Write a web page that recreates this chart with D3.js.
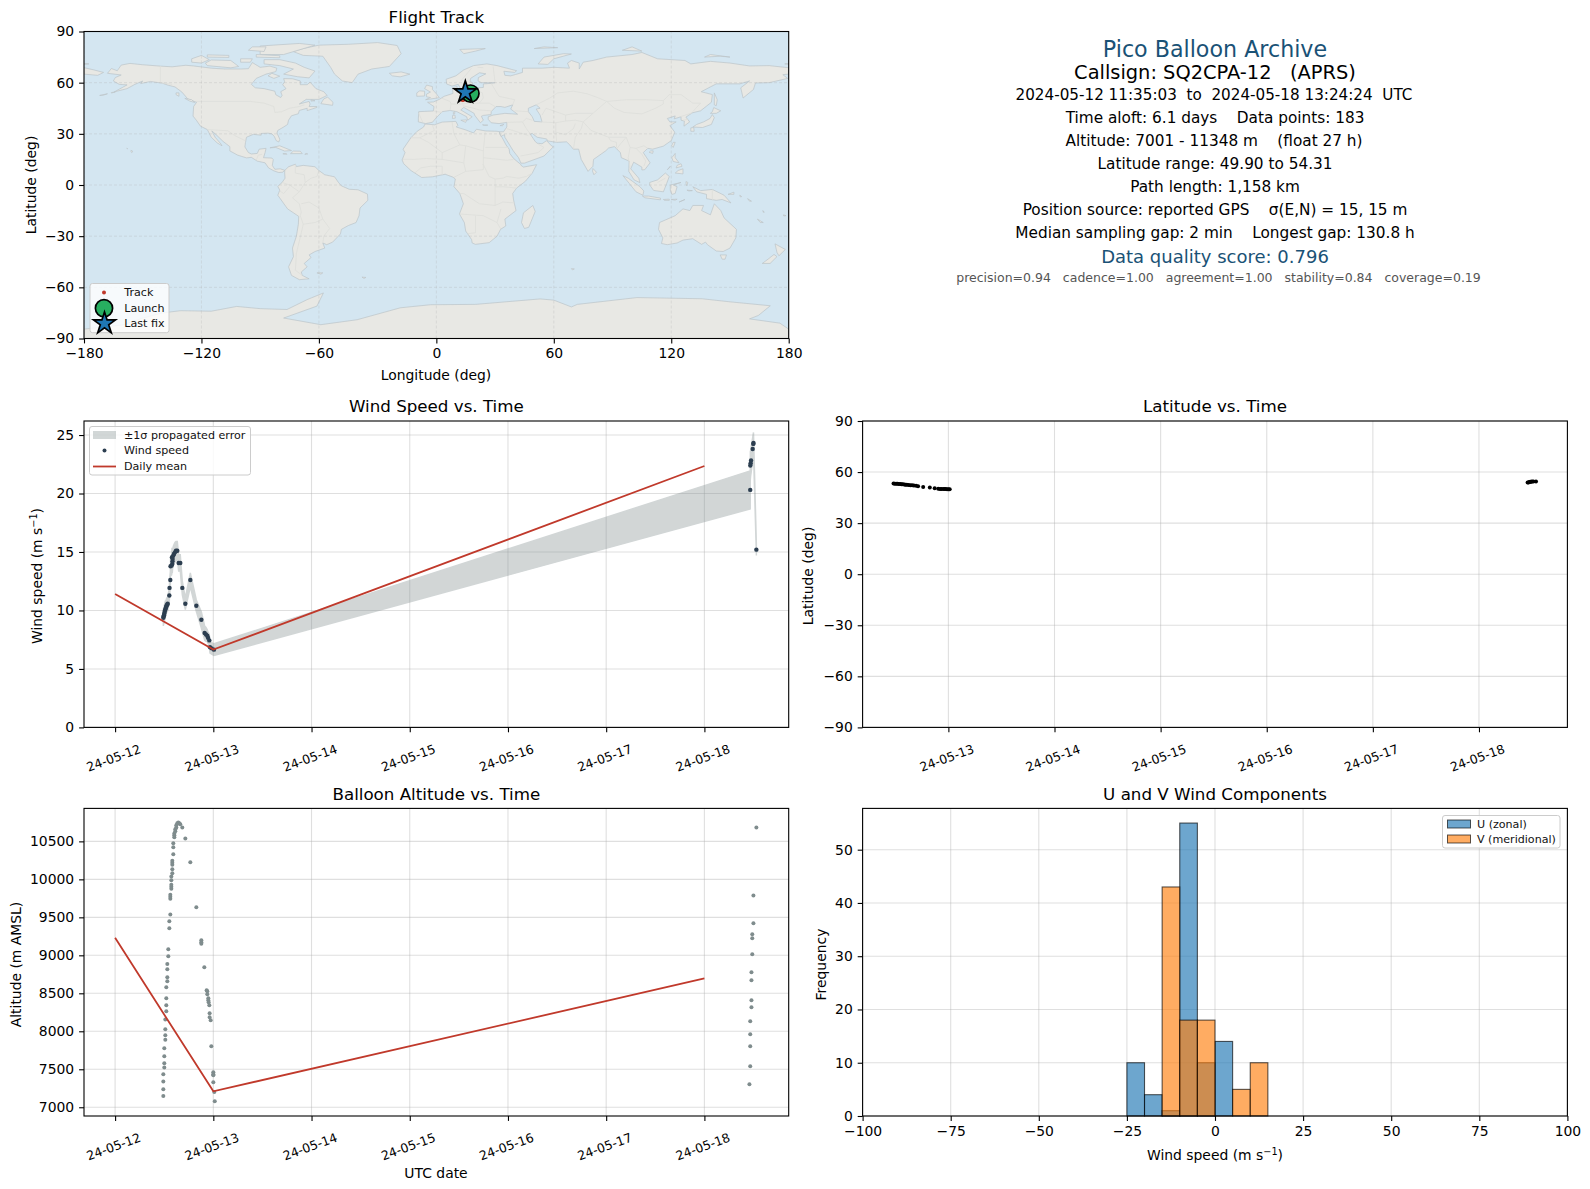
<!DOCTYPE html>
<html>
<head>
<meta charset="utf-8">
<script src="https://cdn.jsdelivr.net/npm/d3@7"></script>
<style>
body { margin: 0; background: #fff; }
text { font-family: "DejaVu Sans", sans-serif; white-space: pre; }
</style>
</head>
<body>
<div id="chart"></div>
<script>
// times are hours after 2024-05-12 00:00 UTC
var windHours = [11.78, 11.86, 11.94, 12.02, 12.1, 12.19, 12.27, 12.43, 12.51, 12.59, 12.76, 12.84, 13.25, 13.3, 13.49, 13.55, 13.82, 13.9, 13.98, 14.02, 14.06, 14.22, 14.39, 14.63, 14.88, 15.2, 15.53, 15.93, 16.42, 17.16, 18.38, 19.85, 21.07, 21.88, 22.21, 22.53, 22.7, 23.02, 23.19, 23.59, 24.16, 155.2, 155.22, 155.3, 155.4, 155.8, 155.95, 156, 156.7];
var windSpeed = [9.38, 9.49, 9.6, 9.72, 9.86, 10.0, 10.11, 10.23, 10.34, 10.43, 10.51, 10.57, 11.28, 11.93, 12.61, 13.78, 13.84, 14.55, 13.98, 14.2, 14.4, 14.69, 14.83, 14.97, 15.11, 15.11, 14.06, 14.06, 11.93, 10.57, 12.61, 10.4, 9.2, 8.07, 7.95, 7.84, 7.67, 7.44, 6.85, 6.76, 6.65, 20.31, 22.39, 22.59, 22.82, 23.81, 24.24, 24.32, 15.2];
var windErr = [0.7, 0.7, 0.7, 0.7, 0.7, 0.7, 0.7, 0.6, 0.6, 0.6, 0.6, 0.6, 0.6, 0.7, 0.7, 0.8, 0.8, 0.8, 0.8, 0.8, 0.8, 0.8, 0.8, 0.85, 0.8, 0.8, 0.7, 0.7, 0.6, 0.5, 0.6, 0.5, 0.7, 0.6, 0.6, 0.5, 0.5, 0.5, 0.5, 0.5, 0.5, 1.63, 1.2, 1.1, 1.1, 1.0, 0.9, 0.9, 0.5];
var meanDays = [0, 24, 144];
var meanWind = [11.4, 6.65, 22.35];
var meanAlt = [9230, 7210, 8695];

var altHours = [11.78, 11.78, 11.78, 11.78, 12.02, 12.02, 12.02, 12.02, 12.27, 12.27, 12.27, 12.27, 12.51, 12.51, 12.51, 12.51, 12.76, 12.76, 12.76, 12.76, 13.0, 13.0, 13.25, 13.25, 13.49, 13.49, 13.49, 13.49, 13.74, 13.74, 13.74, 13.74, 13.74, 13.98, 13.98, 13.98, 13.98, 13.98, 14.22, 14.22, 14.22, 14.47, 14.47, 14.47, 14.71, 14.71, 14.96, 14.96, 15.2, 15.45, 15.69, 15.93, 16.42, 17.16, 18.38, 19.85, 21.07, 21.07, 21.07, 21.8, 22.37, 22.53, 22.53, 22.78, 22.78, 22.86, 23.02, 23.1, 23.1, 23.35, 23.51, 24, 24, 24, 24, 24.24, 24.35, 155.0, 155.2, 155.2, 155.2, 155.2, 155.5, 155.5, 155.5, 155.5, 155.7, 155.7, 155.7, 155.98, 155.98, 156.7];
var altValue = [7149, 7237, 7338, 7434, 7522, 7579, 7671, 7776, 7890, 7947, 8026, 8154, 8263, 8342, 8434, 8579, 8658, 8711, 8816, 8886, 8987, 9079, 9355, 9447, 9539, 9746, 9772, 9798, 9877, 9904, 9930, 9987, 10039, 10079, 10132, 10193, 10219, 10246, 10329, 10421, 10474, 10553, 10579, 10605, 10632, 10658, 10684, 10711, 10737, 10750, 10737, 10724, 10684, 10539, 10224, 9632, 9197, 9171, 9153, 8842, 8539, 8526, 8487, 8434, 8408, 8382, 8342, 8237, 8184, 8145, 7803, 7461, 7434, 7421, 7329, 7202, 7080, 7303, 7961, 7803, 7539, 8132, 8776, 8671, 8408, 8316, 9276, 9224, 9013, 9789, 9421, 10684];

var latHours = [11.6, 11.9, 12.2, 12.5, 12.8, 13.1, 13.4, 13.7, 14, 14.3, 14.6, 15, 15.4, 15.8, 16.2, 16.7, 17.15, 18.3, 19.8, 20.9, 21.7, 22.1, 22.4, 22.8, 23.1, 23.4, 23.7, 24, 24.3, 155, 155.2, 155.4, 155.6, 155.8, 156, 156.3, 156.9];
var latValue = [53.3, 53.2, 53.2, 53.1, 53, 53, 52.9, 52.8, 52.7, 52.6, 52.5, 52.4, 52.3, 52.2, 52.1, 52, 51.7, 51.3, 51, 50.5, 50.2, 50.1, 50.1, 50, 50, 50, 49.95, 49.9, 49.95, 53.8, 53.9, 54.2, 54.3, 54.3, 54.4, 54.5, 54.5];

var histEdges = [-25, -20, -15, -10, -5, 0, 5, 10, 15];
var histU = [10, 4, 1, 55, 10, 14, 0, 0];
var histV = [0, 0, 43, 18, 18, 0, 5, 10];

var trackLon = [16.8, 16.2, 15.6, 15, 14.4, 13.9, 13.4, 13.6];
var trackLat = [53.3, 52.9, 52.4, 51.9, 51.2, 50.5, 50.2, 50];
var launchPoint = [17.4, 53.6];
var lastPoint = [14.8, 54.3];

var infoLines = [
  "Pico Balloon Archive",
  "Callsign: SQ2CPA-12   (APRS)",
  "2024-05-12 11:35:03  to  2024-05-18 13:24:24  UTC",
  "Time aloft: 6.1 days    Data points: 183",
  "Altitude: 7001 - 11348 m    (float 27 h)",
  "Latitude range: 49.90 to 54.31",
  "Path length: 1,158 km",
  "Position source: reported GPS    \u03c3(E,N) = 15, 15 m",
  "Median sampling gap: 2 min    Longest gap: 130.8 h",
  "Data quality score: 0.796",
  "precision=0.94   cadence=1.00   agreement=1.00   stability=0.84   coverage=0.19"
];

// rough coastlines, lon/lat
var landPolys = [
  // north america
  [[-168,65.5],[-166,68.3],[-163,67],[-161,70.3],[-156.5,71.3],[-150,70.5],[-141,69.7],[-135,69.3],[-128,70.2],[-124,69.8],[-115,68.5],[-108,68],[-100,68],[-96,68.2],[-94,71.8],[-90,69],[-85,69.7],[-81.5,68.5],[-82,66.5],[-87,65],[-92,62.5],[-94.5,59],[-92.5,57],[-88,56.5],[-82.5,55],[-82,52.9],[-79.5,51.3],[-78.8,52.5],[-79.5,54.7],[-76.8,56.5],[-78.5,58.8],[-77.5,60.5],[-78,62.4],[-73.5,62.3],[-69.5,61],[-69.5,58.8],[-66,58.8],[-64.5,60.3],[-61.5,56.5],[-57.5,54.7],[-55.8,52.5],[-60,50.2],[-66.5,50.2],[-70,47.5],[-65,49],[-64.5,47.5],[-65,46],[-61,46],[-61,45.5],[-66,43.6],[-66,45],[-70,43.7],[-70.5,41.8],[-74,40.6],[-75.5,38],[-76,35.5],[-78,34],[-81,32],[-81.4,30.5],[-80,26.8],[-80.5,25.2],[-81.8,26],[-82.8,28.5],[-84,30],[-86,30.4],[-89.5,30.2],[-89.5,29.2],[-93.5,29.7],[-97,28],[-97.5,25],[-97.8,22.3],[-96,19],[-94.5,18.2],[-91.5,18.5],[-90.5,21],[-87,21.5],[-87.5,19],[-88.3,16],[-84,15.8],[-83.3,14.9],[-83.8,11.5],[-82.5,9.2],[-79.8,9.5],[-77.4,8.6],[-78.5,7.5],[-80.5,7.3],[-83,8.3],[-85.7,10],[-87.5,13],[-91.5,14],[-94.5,16.2],[-97,15.9],[-101.5,17.5],[-105.5,20],[-105.5,22.5],[-109,25.6],[-112.5,29.5],[-114.7,31.7],[-113,28],[-110,24],[-109.5,23],[-112,24.7],[-115,28],[-117,32.5],[-120.5,34.5],[-122.5,37.8],[-124.3,40.4],[-124,46],[-122.5,48.5],[-127,50.5],[-130,54.5],[-133.5,57.5],[-137,58.5],[-140,59.7],[-146,60.7],[-151,59.5],[-150,61],[-154,59],[-158,56.5],[-164.5,54.6],[-158,58.7],[-162,59],[-165,61],[-164,63],[-161,64.5]],
  // greenland + arctic islands
  [[-73,78.2],[-68,80],[-60,82],[-45,82.5],[-30,83.5],[-20,81.8],[-18,77],[-22,72],[-24,69.5],[-33,68],[-40,65],[-43,60],[-48,61],[-52,65],[-54,69],[-58,75.5],[-68,76]],
  [[-80,73.5],[-72,71.5],[-67.5,69],[-62,66.8],[-65,62.8],[-71,63.5],[-78,65],[-73,68],[-80,70],[-88,71],[-88,73.5]],
  [[-117,70],[-105,68.7],[-101,69.5],[-105,73],[-115,73.3],[-118,71.5]],
  [[-125,72],[-120,71.5],[-116,73.5],[-120,76],[-125,74]],
  [[-90,76.5],[-78,76.5],[-62,82],[-70,83],[-90,81.5]],
  [[-92,75],[-80,74.6],[-80,75.8],[-92,76.5]],
  [[-96,79],[-88,78.3],[-87,81],[-94,81]],
  [[-117,75],[-106,74.8],[-106,76],[-117,76.3]],
  [[-100,72],[-95,72],[-94,74],[-100,74]],
  [[-84,65.5],[-80,63.8],[-83,62.5],[-86,64]],
  [[-59,47.7],[-53,46.7],[-52.8,48.5],[-55.5,51.5],[-57.5,50.5]],
  [[-64,49.9],[-62,49.4],[-64,49.2]],
  [[-133,54],[-131.5,54],[-131.5,52],[-133,53]],
  [[-128.5,50.8],[-125,50],[-123.5,48.4],[-126,49.2]],
  // caribbean, pacific
  [[-85,21.8],[-80,23],[-74,20.2],[-77.5,19.9],[-82,22]],
  [[-74.5,18.4],[-68.5,18.4],[-69.5,19.8],[-73,19.9]],
  [[-78.4,18.3],[-76.3,18],[-76.6,18.4]],
  [[-67.2,18],[-65.7,18.2],[-66.5,18.5]],
  [[-156,20.3],[-155,19.7],[-155.7,19],[-156,19.7]],
  [[-158.2,21.6],[-157.7,21.3],[-158,21.3]],
  [[-166,53.9],[-164,54.6],[-166,54.2]],
  [[-172,52.5],[-168,53.5],[-170,52.7]],
  [[-180,68.8],[-175,67.5],[-170,66],[-173,64.3],[-180,65]],
  [[-24,65.5],[-18,66.3],[-13.5,65],[-18.5,63.4],[-22.5,64]],
  // south america
  [[-77.4,8.6],[-75.5,10.7],[-72,12.2],[-71.5,10.8],[-68,11.5],[-62,10.7],[-60,8.5],[-57,6],[-52,4.8],[-50,1.5],[-48.5,-0.5],[-44.5,-2.5],[-40,-2.8],[-35.2,-5.3],[-35,-9],[-39,-13.5],[-39.5,-18],[-41,-22],[-45,-23.8],[-48.5,-26],[-49,-28.7],[-53,-33.5],[-56,-35],[-58,-34],[-57,-37],[-62,-39],[-65,-41],[-64,-42.5],[-67.5,-46],[-66,-48],[-69,-51],[-68.5,-53],[-65,-55],[-70,-55.5],[-74,-53],[-75.5,-48],[-73,-42],[-73.5,-37],[-71.5,-30],[-70.5,-23],[-70.3,-18.4],[-76,-14],[-81,-6],[-80,-3],[-81,-0.8],[-78.8,1.5],[-77.3,4],[-77.5,7]],
  [[-61,-51.5],[-58,-51.5],[-59,-52.3]],
  [[-38,-54],[-36,-54.2],[-37,-54.8]],
  // africa
  [[-5.8,35.8],[-1,35.3],[3,36.9],[10,37.3],[11,35],[10.2,34],[15,32.3],[19,30.5],[20.5,32.7],[25,31.7],[31,31.5],[32.3,31.2],[32.6,29.8],[34,27],[35.6,23.5],[37.2,21],[37.5,18.5],[39.5,15.5],[43.2,12],[43.3,11.5],[44.5,10.5],[51.2,11.9],[49,7],[45.5,2.2],[41,-1.8],[39,-5],[39.5,-9],[40.7,-15],[35,-20],[35.5,-24],[32.8,-26],[31,-30],[27,-33.8],[20,-34.8],[18.3,-34],[18,-32],[15,-27],[14.3,-22],[11.8,-17],[13.8,-11],[12,-5],[9,-1],[9.7,3.5],[8.5,4.6],[4.5,6.3],[-2,4.8],[-7.5,4.4],[-13,8.5],[-16.7,12.5],[-17.5,14.7],[-16,19],[-17,21],[-13,27.7],[-9.8,31.5],[-6.5,34]],
  [[49.3,-12],[50.5,-15.5],[47.2,-24.8],[45,-25.5],[43.5,-22],[44.5,-16.3]],
  [[69,-49],[70.5,-49.2],[69.5,-49.8]],
  // eurasia
  [[-9.2,38.7],[-9,43],[-1.5,43.4],[-1.2,46],[-4.5,48.5],[-1.5,48.7],[1.5,50.2],[4,52],[8.5,53.7],[8.2,57],[10.6,57.7],[10.5,54.3],[14,54],[19,54.5],[21,55.2],[21.2,57],[24,57.2],[24,59.3],[28,59.6],[30,60],[23,60],[21.3,61],[21.5,63],[25.3,65.2],[22,65.8],[17.5,62.5],[17.2,60.7],[18.8,59.8],[16.5,57],[14.3,55.5],[12.8,55.5],[11.2,59],[8,58],[5.3,59.2],[5,62],[10,64],[14,67.5],[19,70],[25.8,71],[31,70],[41,67],[40,66],[34.5,66.7],[35,64.3],[38,64],[40.5,64.8],[44,66],[44,68.5],[54,68.5],[60,69],[68,68.5],[67,71.5],[69,73],[73,71.5],[73,68],[75,72],[80,73],[87,75],[100,76.5],[105,77.7],[113,74],[127,73],[130,71],[140,72.5],[150,71.5],[160,69.8],[170,70],[178,69],[180,68.8],[180,65],[177,64.7],[179.5,62.5],[170,60],[163,59.8],[162,56],[156.7,51],[155.5,57],[160,61],[155,59.3],[143,59.3],[135.3,54.7],[141,53],[140.5,48.5],[135,43.5],[130.7,42.3],[127.5,39.8],[129.4,37],[126.5,34.5],[126.7,37.5],[125,38],[125,40],[121.5,38.8],[122,40.5],[118,39],[119.3,37],[122.5,37],[119.3,34.8],[121.8,31],[120,26],[116,22.8],[110.5,21],[108,21.5],[105.7,19],[109.2,13],[106.5,9],[105,8.8],[105,10.5],[100.8,13.4],[99.3,9.5],[103.4,4],[104,1.4],[101,3],[98.3,8],[98.5,14],[94.5,16],[94,19],[91,22.5],[88,21.7],[86.5,20],[80.3,15],[80,11],[77.5,8],[74,15],[72.7,21],[70,21],[68,23.7],[66.5,25.3],[61.5,25],[57,25.8],[56.3,27],[51.5,28],[49,30.2],[48,29.8],[50.5,25.5],[51.5,24.5],[54,24.2],[56.3,26],[58.8,23],[59.8,22.4],[55,17],[45,12.8],[43.2,12.8],[42,16],[39.3,20],[35,28],[34.8,29.5],[33,28.5],[32.5,30],[32.3,31.2],[34.3,31.2],[36,34],[36,36.7],[32,36],[28,36.5],[26.5,38.5],[26.5,40],[29,41],[35,42],[41.5,41.5],[38,44.5],[39,47],[35,45.5],[33,46],[30.5,46],[28,43],[28,41.3],[24,40.8],[23,40.3],[24,38],[22.5,36.5],[19.5,41],[19.3,42],[14,45.5],[12.5,44],[18.3,40],[16,38],[15.5,40],[10.5,43],[7,43.7],[3,43],[0,39.5],[-2,36.8],[-5.5,36],[-9.2,37]],
  [[-5.5,50],[1.5,51.2],[0,53.5],[-2,56],[-2,57.7],[-5,58.6],[-6,56.5],[-3,54.5],[-5,53.3],[-5,51.7],[-3,51.3]],
  [[-10,52],[-6,52.2],[-6,55],[-8.5,55.2],[-10,54]],
  [[14,77],[20,78.5],[25,80],[12,79.5]],
  [[52,71],[57,70.7],[60,74],[69,76.8],[65,77],[55,75]],
  [[137,75],[145,75.5],[150,75],[140,76.5]],
  [[95,79],[105,78.5],[100,81]],
  [[50,80],[62,80.5],[55,81]],
  [[178,71],[180,71.2],[180,70.8]],
  [[-180,71.2],[-177.5,71],[-180,70.8]],
  [[142,54],[143.5,50],[143,46.5],[142,47],[142,52]],
  [[131,34],[136,33.7],[140.5,35.5],[142,39.5],[141,41.3],[139.8,39],[136.5,37],[133,35.5]],
  [[140,42],[143,42],[145.3,43.5],[141.7,45.4],[141,43]],
  [[130,31.5],[131.7,31.5],[131.5,33.7],[130,33.5]],
  [[120.2,23],[121,22],[122,25],[121,25]],
  [[108.7,19.2],[110.5,18.5],[110.8,20],[109.5,20]],
  [[80,9.7],[81.8,7.5],[80.5,6],[79.8,8]],
  [[8.2,39],[9.7,39.2],[9.5,41],[8.3,40.8]],
  [[8.7,41.5],[9.5,42],[9.3,43],[8.7,42.5]],
  [[12.5,38],[15.5,38.2],[15,36.7]],
  [[23.6,35.3],[26.3,35.1],[24.5,34.9]],
  [[32.5,34.8],[34.5,35.6],[33.8,34.8]],
  // maritime asia, oceania
  [[120.3,16],[122,18.5],[122,16],[124,13],[121,13.8]],
  [[122,7],[126,6.5],[126,9.5],[123.5,8.5]],
  [[122.5,10],[125.5,11],[125,12.5],[123,11.5]],
  [[118,9],[119.5,11],[119,10]],
  [[95.3,5.5],[98,4],[104,-1],[106,-3.5],[105.5,-6],[102,-4],[98.5,1]],
  [[105.3,-6.5],[108.5,-6.5],[114.5,-7.7],[114.5,-8.7],[106.5,-7.5]],
  [[109,1.5],[113,3],[117,7],[119,5],[117.7,1],[116,-4],[111,-3.2],[109,0]],
  [[119.5,0],[125,1.5],[121,0],[123,-1],[122,-5],[120.3,-5.5],[119.5,-3]],
  [[131,-1],[135,-3.3],[141,-2.6],[147,-6],[150.5,-10.5],[146,-8.5],[143,-9],[138,-8],[138,-5.5],[133,-4]],
  [[116,-8.5],[119,-8.3],[119,-9],[116.5,-9]],
  [[120,-8.5],[123,-8.3],[122,-8.9]],
  [[124,-10],[127,-8.5],[125,-9.5]],
  [[128,-3],[130.8,-3.3],[129,-3.5]],
  [[127.5,2],[128.5,1.5],[128,-0.5],[127.6,0.5]],
  [[149,-5.5],[152,-4.2],[152,-5.5]],
  [[155,-6],[156,-6.8],[155.3,-7]],
  [[159,-8],[161,-9.5],[160,-9.5]],
  [[166.8,-15],[167.5,-16],[167,-16]],
  [[164,-20],[167,-22],[165.5,-22]],
  [[177.3,-17.5],[178.6,-18],[177.5,-18.2]],
  [[114,-22],[122,-18],[126,-14],[129.5,-15],[131,-12],[136.5,-12],[135.5,-15],[140,-17.5],[142,-11],[145.3,-15],[147,-19.3],[150,-22.5],[153.3,-26],[153,-31],[150,-37],[146.5,-39],[143,-38.7],[138.5,-35],[137.5,-33.5],[135.5,-34.8],[131,-31.5],[126,-32.3],[123,-34],[118,-35],[115,-34.3],[115.7,-31],[113.5,-26]],
  [[145,-41],[148.2,-41],[147.5,-43.5],[146,-43.5]],
  [[173,-34.5],[178.3,-37.8],[175,-41.5],[174,-39.5]],
  [[172.5,-40.7],[174,-42],[170.5,-46],[166.5,-46],[170,-43]],
  // antarctica
  [[-180,-84.5],[-160,-82],[-150,-78],[-140,-75],[-130.7,-73.7],[-115,-74],[-102,-71.2],[-90,-72.5],[-76.3,-73],[-66,-67.2],[-57.7,-63.3],[-61,-71],[-78,-78],[-59,-81.9],[-40.5,-79],[-18.4,-72],[-3,-70.2],[20,-70],[53,-66.8],[60,-67.5],[69,-71.5],[72,-70],[102.5,-66],[135.7,-66.7],[150,-68.5],[170.6,-70.8],[164.5,-76.5],[160,-78.5],[175.5,-81],[180,-84.5],[180,-90],[-180,-90]]
];

var caspian = [[47,45],[51,47],[53,45],[51,44.5],[53,41],[54,37],[50,37.3],[49,40],[47,43]];

var borderLines = [
  [[-123,49],[-95,49],[-88,48],[-83,46],[-82.5,42.5],[-79,43],[-75,45],[-70,46],[-67.5,47]],
  [[-141,69.7],[-141,60],[-135,59]],
  [[-117,32.5],[-106.5,31.8],[-103,29],[-97.5,25.9]],
  [[-92,14.5],[-91,17.5],[-89,18]],
  [[-72,12],[-72,7],[-67.5,6],[-67,1.5],[-70,-4],[-73.5,-7.5],[-70,-11],[-69,-16],[-69.5,-18]],
  [[-60,8.5],[-61,5],[-64,4],[-67,1.5]],
  [[-78.8,1.5],[-75,0],[-70,-4]],
  [[-80,-3.5],[-78,-5],[-75,-1]],
  [[-69,-11],[-65,-10],[-60,-13.5],[-58,-20],[-54.5,-25.5],[-57.5,-30],[-58,-34]],
  [[-69.5,-18],[-68,-23],[-62,-22],[-58,-20]],
  [[-68,-23],[-70,-33],[-71.5,-40],[-72,-50],[-68.5,-53]],
  [[-2,35],[-1,32],[-8.5,27.7],[-13,27.7]],
  [[-8.5,27.7],[-4,25],[3,19],[12,23.5],[15,23],[24,20],[25,31.7]],
  [[8,37],[9,30],[12,23.5]],
  [[24,20],[24,12],[27,5],[30,3.5],[34,4],[36,5],[42,4],[46,5],[49,7]],
  [[25,22],[37,22]],
  [[24,16],[36,14.5],[39.5,15]],
  [[-17,15],[-12,15],[-5,15.5],[3,15],[3,19]],
  [[3,15],[14,13],[15,23]],
  [[14,13],[15,8],[9,4.5]],
  [[-11,7],[-8,10],[-3,11],[3,11],[3,6]],
  [[15,8],[24,9],[24,12]],
  [[12,-5],[14,-5],[18,-8],[22,-11],[30,-12],[30,-5],[30,3.5]],
  [[30,-1],[34,-1],[41,-1.8]],
  [[12,-17],[24,-18],[31,-22],[33,-26]],
  [[20,-18],[20,-28],[16,-28.5]],
  [[30,-12],[34,-10],[40,-10.5]],
  [[33,-14],[31,-22]],
  [[-1.5,43.4],[3,42.5]],
  [[-9,42],[-7,37]],
  [[2.5,51],[7,49],[7.5,47.5],[7,43.7]],
  [[7.5,47.5],[13,47.5],[17,48],[22,48],[24,51],[23.5,54],[21,55.2]],
  [[14,54],[15,51],[13,47.5]],
  [[13.5,46.5],[19,45],[22,44],[28,43.5]],
  [[22,48],[27,48],[30,46]],
  [[28,59.6],[32,52],[40,50],[39,47]],
  [[30,60],[29,69.5]],
  [[24,68.8],[21,69]],
  [[12.5,61],[18,68.5]],
  [[47,43],[40,43.5]],
  [[36,36.7],[44,37],[46,39],[49,38]],
  [[44,37],[46,33],[48,30]],
  [[36,33],[39,32],[47,29]],
  [[43,17],[52,19],[55,22],[52,24]],
  [[53,37],[61,36.5],[61,31],[61.5,25]],
  [[61,36.5],[66,37.5],[71,38],[75,37],[74,33],[71,28],[70,21]],
  [[61,31],[66,29.5],[70,33],[71,36]],
  [[51,47],[58,51],[62,54],[70,55],[77,53.5],[83,51],[87,49],[97,50],[107,50],[116,49.5],[119,53],[125,53],[131,48],[135,48],[131,43]],
  [[54,41],[56,45],[66,41],[71,42],[80,42],[87,49]],
  [[66,41],[66,37.5]],
  [[80,42],[75,37]],
  [[87,49],[91,45],[96,42.5],[105,41.7],[112,45],[116,47.5],[116,49.5]],
  [[75,37],[79,32],[88,28],[97,28],[99,22],[102,21.5],[106,23],[108,21.5]],
  [[88,28],[89,26],[92,25],[92,22]],
  [[97,28],[94,24],[92,21]],
  [[99,22],[98,16],[99,10.5]],
  [[102,21.5],[105,18],[107,14],[106,11]],
  [[124.5,40],[130.7,42.3]],
  [[126,38],[128.5,38.5]],
  [[141,-2.6],[141,-9]],
  [[113,1.5],[117,4]]
];

// layout
var W = 1590, H = 1189;
var leftX = [84, 788.7], rightX = [862.6, 1567.4];
var row1 = [31.5, 338.5], row2 = [421, 727.4], row3 = [808.4, 1116];

var tickFont = 13.9, dateFont = 12.5, labelFont = 13.9, titleFont = 16.7, legendFont = 11.1;
var gridCol = "#b0b0b0";

var svg = d3.select("#chart").append("svg")
  .attr("width", W).attr("height", H)
  .style("display", "block");

function t(h) { return new Date(Date.UTC(2024, 4, 12) + h * 3600e3); }
var dateTicks = d3.range(0, 7).map(function (d) { return t(d * 24); });
var fmtDate = d3.utcFormat("%y-%m-%d");

function panel(x, y, title, lift) {
  var g = svg.append("g");
  g.append("text").attr("x", (x[0] + x[1]) / 2).attr("y", y[0] - 8.3 - (lift || 0))
    .attr("text-anchor", "middle").attr("font-size", titleFont).text(title);
  return g;
}

function grid(g, xs, ys, xv, yv, dash, op, sw) {
  var gg = g.append("g").attr("stroke", gridCol).attr("stroke-width", sw || 1.1).attr("stroke-opacity", op || 0.4);
  if (dash) gg.attr("stroke-dasharray", dash);
  gg.selectAll(".v").data(xv).enter().append("line")
    .attr("x1", function (d) { return xs(d); }).attr("x2", function (d) { return xs(d); })
    .attr("y1", ys.range()[0]).attr("y2", ys.range()[1]);
  gg.selectAll(".h").data(yv).enter().append("line")
    .attr("y1", function (d) { return ys(d); }).attr("y2", function (d) { return ys(d); })
    .attr("x1", xs.range()[0]).attr("x2", xs.range()[1]);
}

function frame(g, xs, ys, xv, yv, xfmt, yfmt, rotate) {
  var b = ys.range()[0], l = xs.range()[0];
  var ax = g.append("g").attr("transform", "translate(0," + b + ")")
    .call(d3.axisBottom(xs).tickValues(xv).tickSize(4.9).tickPadding(4.9).tickFormat(xfmt));
  var ay = g.append("g").attr("transform", "translate(" + l + ",0)")
    .call(d3.axisLeft(ys).tickValues(yv).tickSize(4.9).tickPadding(4.9).tickFormat(yfmt));
  [ax, ay].forEach(function (a) {
    a.attr("font-family", null).attr("font-size", tickFont);
    a.selectAll("text").attr("fill", "#000");
    a.selectAll("line").attr("stroke", "#000").attr("stroke-width", 1.1);
    a.select(".domain").remove();
  });
  if (rotate) {
    ax.selectAll("text")
      .attr("dy", null).attr("y", 0)
      .attr("font-size", dateFont)
      .attr("text-anchor", "middle")
      .attr("dominant-baseline", "central")
      .attr("transform", "translate(-2,30.5) rotate(-20)");
  }
  g.append("rect").attr("x", l).attr("y", ys.range()[1])
    .attr("width", xs.range()[1] - l).attr("height", b - ys.range()[1])
    .attr("fill", "none").attr("stroke", "#000").attr("stroke-width", 1.1);
}

function ylabel(x, y, txt) {
  return svg.append("text").attr("text-anchor", "middle").attr("font-size", labelFont)
    .attr("transform", "translate(" + x + "," + y + ") rotate(-90)").text(txt);
}
function xlabel(x, y, txt) {
  return svg.append("text").attr("x", x).attr("y", y).attr("text-anchor", "middle")
    .attr("font-size", labelFont).text(txt);
}
function windUnit(sel) {
  sel.append("tspan").text("Wind speed (m s");
  sel.append("tspan").attr("font-size", 9.7).attr("dy", -5).text("\u22121");
  sel.append("tspan").attr("dy", 5).text(")");
}

function legendBox(x0, y0, x1, y1) {
  svg.append("rect").attr("x", x0).attr("y", y0).attr("width", x1 - x0).attr("height", y1 - y0)
    .attr("rx", 2.5).attr("fill", "#fff").attr("fill-opacity", 0.8)
    .attr("stroke", "#ccc").attr("stroke-width", 1);
}
function legendText(x, y, txt) {
  svg.append("text").attr("x", x).attr("y", y).attr("dy", "0.36em")
    .attr("font-size", legendFont).attr("fill", "#111").text(txt);
}

// ---- flight track map
var mapX = d3.scaleLinear().domain([-180, 180]).range(leftX);
var mapY = d3.scaleLinear().domain([-90, 90]).range([row1[1], row1[0]]);
var g1 = panel(leftX, row1, "Flight Track");
svg.append("defs").append("clipPath").attr("id", "mapclip").append("rect")
  .attr("x", leftX[0]).attr("y", row1[0]).attr("width", leftX[1] - leftX[0]).attr("height", row1[1] - row1[0]);
var mapG = g1.append("g").attr("clip-path", "url(#mapclip)");
mapG.append("rect").attr("x", leftX[0]).attr("y", row1[0]).attr("width", leftX[1] - leftX[0]).attr("height", row1[1] - row1[0]).attr("fill", "#d4e6f1");
var mapLine = d3.line().x(function (d) { return mapX(d[0]); }).y(function (d) { return mapY(d[1]); });
mapG.selectAll(".land").data(landPolys).enter().append("path")
  .attr("d", function (d) { return mapLine(d) + "Z"; })
  .attr("fill", "#e8e8e4").attr("stroke", "#bcc4c8").attr("stroke-width", 0.7).attr("stroke-linejoin", "round");
mapG.append("path").attr("d", mapLine(caspian) + "Z").attr("fill", "#d4e6f1").attr("stroke", "#bcc4c8").attr("stroke-width", 0.7);
mapG.selectAll(".border").data(borderLines).enter().append("path")
  .attr("d", mapLine).attr("fill", "none").attr("stroke", "#dddeda").attr("stroke-width", 0.8);

var mapXT = d3.range(-180, 181, 60), mapYT = d3.range(-90, 91, 30);
grid(mapG, mapX, mapY, mapXT, mapYT, "3,2", 0.35, 0.8);

mapG.selectAll(".track").data(d3.zip(trackLon, trackLat)).enter().append("circle")
  .attr("cx", function (d) { return mapX(d[0]); }).attr("cy", function (d) { return mapY(d[1]); })
  .attr("r", 2.4).attr("fill", "#c0392b");
var circleSym = d3.symbol().type(d3.symbolCircle).size(Math.PI * 8.6 * 8.6);
var starSym = d3.symbol().type(d3.symbolStar).size(150);
function marker(sel, sym, x, y, fill) {
  sel.append("path").attr("d", sym()).attr("transform", "translate(" + x + "," + y + ")")
    .attr("fill", fill).attr("stroke", "#000").attr("stroke-width", 1.7);
}
marker(mapG, circleSym, mapX(launchPoint[0]), mapY(launchPoint[1]), "#27ae60");
marker(mapG, starSym, mapX(lastPoint[0]), mapY(lastPoint[1]), "#1f77b4");
frame(g1, mapX, mapY, mapXT, mapYT, d3.format("d"), d3.format("d"), false);
xlabel(436, 380, "Longitude (deg)");
ylabel(36, 185, "Latitude (deg)");
legendBox(90, 283.5, 169, 332.7);
svg.append("circle").attr("cx", 104).attr("cy", 292.5).attr("r", 2).attr("fill", "#c0392b");
marker(svg, circleSym, 104, 308.3, "#27ae60");
marker(svg, starSym, 104.5, 323.5, "#1f77b4");
legendText(124.3, 292.5, "Track");
legendText(124.3, 308.3, "Launch");
legendText(124.3, 323.5, "Last fix");

// ---- info block
var infoX = [1215, 1215, 1214, 1215, 1214, 1215, 1215, 1215, 1215, 1215, 1218.5];
var infoY = [57, 79, 99.5, 123, 146, 168.5, 192, 215, 238, 263, 282];
var infoSize = [22.2, 19.4, 15.2, 15.3, 15.3, 15.3, 15.3, 15.3, 15.3, 18, 12.5];
var infoCol = ["#1a5276", "#000", "#000", "#000", "#000", "#000", "#000", "#000", "#000", "#1a5276", "#555"];
svg.selectAll(".info").data(infoLines).enter().append("text")
  .attr("x", function (d, i) { return infoX[i]; })
  .attr("y", function (d, i) { return infoY[i]; })
  .attr("text-anchor", "middle")
  .attr("font-size", function (d, i) { return infoSize[i]; })
  .attr("fill", function (d, i) { return infoCol[i]; })
  .text(function (d) { return d; });

// ---- wind speed
var timeL = d3.scaleUtc().domain([t(-7.6), t(164.6)]).range(leftX);
var windY = d3.scaleLinear().domain([0, 26.2]).range([row2[1], row2[0]]);
var g2 = panel(leftX, row2, "Wind Speed vs. Time", 1);
grid(g2, timeL, windY, dateTicks, d3.range(0, 26, 5));
g2.append("path")
  .attr("d", d3.area()
    .x(function (d, i) { return timeL(t(windHours[i])); })
    .y0(function (d, i) { return windY(windSpeed[i] - windErr[i]); })
    .y1(function (d, i) { return windY(windSpeed[i] + windErr[i]); })(windHours))
  .attr("fill", "#7f8c8d").attr("stroke", "#7f8c8d").attr("stroke-width", 1.4).attr("opacity", 0.35);
g2.selectAll(".w").data(windHours).enter().append("circle")
  .attr("cx", function (d) { return timeL(t(d)); })
  .attr("cy", function (d, i) { return windY(windSpeed[i]); })
  .attr("r", 2.2).attr("fill", "#2c3e50");
g2.append("path")
  .attr("d", d3.line().x(function (d) { return timeL(t(d)); }).y(function (d, i) { return windY(meanWind[i]); })(meanDays))
  .attr("fill", "none").attr("stroke", "#c0392b").attr("stroke-width", 1.8);
frame(g2, timeL, windY, dateTicks, d3.range(0, 26, 5), fmtDate, d3.format("d"), true);
ylabel(42, 576, "").call(windUnit);
legendBox(89.5, 426.5, 250.5, 475);
svg.append("rect").attr("x", 93).attr("y", 431).attr("width", 23).attr("height", 8).attr("fill", "#7f8c8d").attr("fill-opacity", 0.35);
svg.append("circle").attr("cx", 104.5).attr("cy", 450.5).attr("r", 2).attr("fill", "#2c3e50");
svg.append("line").attr("x1", 93).attr("x2", 116).attr("y1", 466.5).attr("y2", 466.5).attr("stroke", "#c0392b").attr("stroke-width", 1.8);
legendText(124, 435, "\u00b11\u03c3 propagated error");
legendText(124, 450.5, "Wind speed");
legendText(124, 466.5, "Daily mean");

// ---- latitude
var timeR = d3.scaleUtc().domain([t(4.6), t(164)]).range(rightX);
var latY = d3.scaleLinear().domain([-90, 90]).range([row2[1], row2[0]]);
var g3 = panel(rightX, row2, "Latitude vs. Time", 1);
grid(g3, timeR, latY, dateTicks.slice(1), mapYT);
g3.selectAll(".l").data(latHours).enter().append("circle")
  .attr("cx", function (d) { return timeR(t(d)); })
  .attr("cy", function (d, i) { return latY(latValue[i]); })
  .attr("r", 2).attr("fill", "#000");
frame(g3, timeR, latY, dateTicks.slice(1), mapYT, fmtDate, d3.format("d"), true);
ylabel(813, 576, "Latitude (deg)");

// ---- altitude
var altY = d3.scaleLinear().domain([6885, 10934]).range([row3[1], row3[0]]);
var altTicks = d3.range(7000, 10501, 500);
var g4 = panel(leftX, row3, "Balloon Altitude vs. Time");
grid(g4, timeL, altY, dateTicks, altTicks);
g4.selectAll(".a").data(altHours).enter().append("circle")
  .attr("cx", function (d) { return timeL(t(d)); })
  .attr("cy", function (d, i) { return altY(altValue[i]); })
  .attr("r", 2).attr("fill", "#7f8c8d");
g4.append("path")
  .attr("d", d3.line().x(function (d) { return timeL(t(d)); }).y(function (d, i) { return altY(meanAlt[i]); })(meanDays))
  .attr("fill", "none").attr("stroke", "#c0392b").attr("stroke-width", 1.8);
frame(g4, timeL, altY, dateTicks, altTicks, fmtDate, d3.format("d"), true);
xlabel(436, 1178, "UTC date");
ylabel(21, 964.5, "Altitude (m AMSL)");

// ---- histogram
var histX = d3.scaleLinear().domain([-100, 100]).range(rightX);
var histY = d3.scaleLinear().domain([0, 57.75]).range([row3[1], row3[0]]);
var histXT = d3.range(-100, 101, 25), histYT = d3.range(0, 51, 10);
var g5 = panel(rightX, row3, "U and V Wind Components");
grid(g5, histX, histY, histXT, histYT);
function bars(counts, col) {
  counts.forEach(function (c, i) {
    if (!c) return;
    g5.append("rect")
      .attr("x", histX(histEdges[i])).attr("width", histX(histEdges[i + 1]) - histX(histEdges[i]))
      .attr("y", histY(c)).attr("height", histY(0) - histY(c))
      .attr("fill", col).attr("fill-opacity", 0.65)
      .attr("stroke", "#000").attr("stroke-opacity", 0.65).attr("stroke-width", 1.1);
  });
}
bars(histU, "#1f77b4");
bars(histV, "#ff7f0e");
frame(g5, histX, histY, histXT, histYT, d3.format("d"), d3.format("d"), false);
xlabel(1215, 1160, "").call(windUnit);
ylabel(826, 964.5, "Frequency");
legendBox(1442.5, 815.5, 1560, 848);
svg.append("rect").attr("x", 1447.5).attr("y", 820).attr("width", 23).attr("height", 8).attr("fill", "#1f77b4").attr("fill-opacity", 0.65).attr("stroke", "#000").attr("stroke-opacity", 0.65);
svg.append("rect").attr("x", 1447.5).attr("y", 835).attr("width", 23).attr("height", 8).attr("fill", "#ff7f0e").attr("fill-opacity", 0.65).attr("stroke", "#000").attr("stroke-opacity", 0.65);
legendText(1477, 824, "U (zonal)");
legendText(1477, 839, "V (meridional)");
</script>
</body>
</html>
